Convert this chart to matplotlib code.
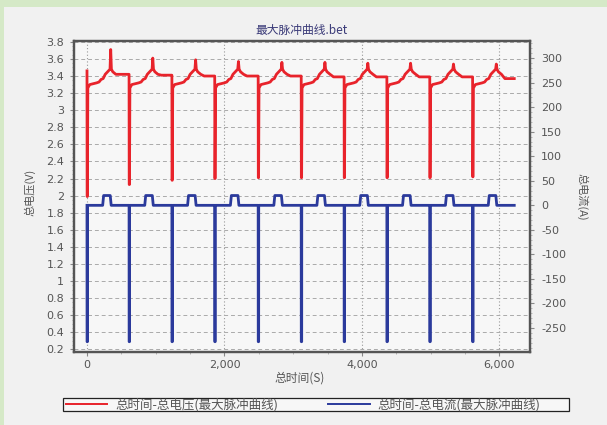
import numpy as np
import matplotlib.pyplot as plt
from matplotlib.ticker import MultipleLocator, FuncFormatter
from matplotlib.patches import Rectangle

plt.rcParams['font.family'] = ['Noto Sans CJK SC', 'DejaVu Sans']
plt.rcParams['axes.unicode_minus'] = False

# values
drop_t = [0, 612, 1235, 1858, 2490, 3116, 3740, 4362, 4986, 5609]      # s, start of each discharge pulse
dip_v = [1.99, 2.13, 2.18, 2.20, 2.21, 2.21, 2.21, 2.21, 2.21, 2.22]    # V, bottom of each dip
peak_v = [3.71, 3.61, 3.59, 3.57, 3.56, 3.56, 3.55, 3.55, 3.54, 3.54]   # V, top after charge pulse
rest_v = [3.42, 3.41, 3.40, 3.40, 3.40, 3.39, 3.39, 3.39, 3.39, 3.37]   # V, flat before next dip
end_t = 6215
start_v = 3.46

# shape of one cycle (offset from the dip, s) and voltage, peak/rest filled per cycle
cyc_off = [12, 40, 140, 175, 205, 235, 265, 300, 335, 345, 355, 375, 420, 470]
cyc_v = [3.26, 3.30, 3.32, 3.33, 3.36, 3.37, 3.42, 3.45, 3.48, None, 3.48, 3.45, 3.42, None]

# current: discharge spike and short charge pulse
dis_i = -278
chg_i = 20
chg_on, chg_off = 228, 352

t_v, v = [0], [start_v]
t_i, cur = [], []
for k, t0 in enumerate(drop_t):
    t_v += [t0 + 2, t0 + 6]
    v += [dip_v[k], dip_v[k]]
    for off, val in zip(cyc_off, cyc_v):
        if val is None:
            val = peak_v[k] if off == 345 else rest_v[k]
        t_v.append(t0 + off)
        v.append(val)
    nxt = drop_t[k + 1] if k + 1 < len(drop_t) else end_t
    t_v.append(nxt)
    v.append(rest_v[k])

    t_i += [t0, t0 + 1, t0 + 7, t0 + 8, t0 + chg_on, t0 + chg_on + 14,
            t0 + chg_off - 14, t0 + chg_off, nxt]
    cur += [0, dis_i, dis_i, 0, 0, chg_i, chg_i, 0, 0]

red = '#e8232b'
blue = '#2b3a9c'
txt = '#555555'

fig = plt.figure(figsize=(6.07, 4.25), dpi=100)
fig.patch.set_facecolor('#d5e9c7')
fig.add_artist(Rectangle((4 / 607, 0), 1, 1 - 7 / 425, transform=fig.transFigure,
                         facecolor='#f1f1f1', edgecolor='none', zorder=-10))

ax = fig.add_axes([74 / 607, 1 - 352 / 425, (530 - 74) / 607, (352 - 41) / 425])
ax.set_facecolor('#f7f7f7')
ax2 = ax.twinx()

ax.plot(t_v, v, color=red, lw=2.0, zorder=3)
ax2.plot(t_i, cur, color=blue, lw=2.0, zorder=3)

ax.set_xlim(-189, 6444)
ax.set_ylim(0.17, 3.81)
ax2.set_ylim(-299, 335)

ax.yaxis.set_major_locator(MultipleLocator(0.2))
ax.yaxis.set_minor_locator(MultipleLocator(0.05))
ax.yaxis.set_major_formatter(FuncFormatter(lambda y, p: '%g' % round(y, 2)))
ax.xaxis.set_major_locator(MultipleLocator(2000))
ax.xaxis.set_minor_locator(MultipleLocator(500))
ax.xaxis.set_major_formatter(FuncFormatter(lambda x, p: '{:,.0f}'.format(x)))
ax2.yaxis.set_major_locator(MultipleLocator(50))
ax2.yaxis.set_minor_locator(MultipleLocator(10))

ax.grid(True, which='major', axis='y', color='#aaaaaa', linestyle=(0, (4, 3)), lw=0.7)
ax.grid(True, which='major', axis='x', color='#999999', linestyle=(0, (1, 2)), lw=0.8)

for a in (ax, ax2):
    a.tick_params(which='major', length=3, width=0.8, color='#888888', labelsize=8,
                  labelcolor=txt, pad=3)
    a.tick_params(which='minor', length=1.5, width=0.6, color='#aaaaaa')
    for s in a.spines.values():
        s.set_color('#555555')
        s.set_linewidth(1.6)
    for lab in a.get_xticklabels() + a.get_yticklabels():
        lab.set_fontfamily('DejaVu Sans')
ax.tick_params(axis='y', pad=4)
ax2.tick_params(axis='y', pad=5)

fig.text(30 / 607, 1 - 192 / 425, '总电压(V)', rotation=90, ha='center', va='center',
         fontsize=8, color=txt)
fig.text(582 / 607, 1 - 197 / 425, '总电流(A)', rotation=-90, ha='center', va='center',
         fontsize=8, color=txt)
fig.text(300 / 607, 1 - 378 / 425, '总时间(S)', ha='center', va='center',
         fontsize=8.5, color=txt)
fig.text(302 / 607, 1 - 30 / 425, '最大脉冲曲线.bet', ha='center', va='center',
         fontsize=8.5, color='#3a3a78')

# legend box with border drawn separately
fig.add_artist(Rectangle((63 / 607, 1 - 411 / 425), 506 / 607, 13 / 425, transform=fig.transFigure,
                         facecolor='#f7f7f7', edgecolor='#222222', lw=0.9, zorder=4))
h1 = plt.Line2D([], [], color=red, lw=1.4)
h2 = plt.Line2D([], [], color=blue, lw=1.4)
leg = fig.legend([h1, h2], ['总时间-总电压(最大脉冲曲线)', '总时间-总电流(最大脉冲曲线)'],
                 loc='center left', bbox_to_anchor=(66 / 607, 1 - 404.5 / 425),
                 ncol=2, fontsize=9, frameon=False, borderpad=0, borderaxespad=0,
                 handlelength=3.3, handletextpad=0.65, columnspacing=4.0,
                 labelcolor=txt)
leg.set_zorder(5)

fig.savefig('out.png', dpi=100, facecolor=fig.get_facecolor())
